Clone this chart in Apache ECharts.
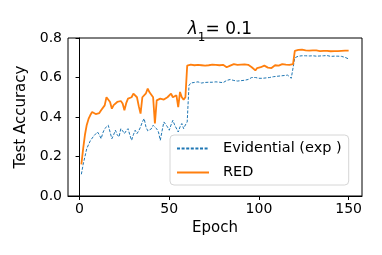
<!DOCTYPE html>
<html>
<head>
<meta charset="utf-8">
<script src="https://cdn.jsdelivr.net/npm/echarts@6/dist/echarts.min.js"></script>
<style>
html,body{margin:0;padding:0;background:#fff;}
#c{width:382px;height:255px;}
</style>
</head>
<body>
<div id="c"></div>
<script>
// ---- data ----
const titleText = "λ1= 0.1";
const seriesNames = ["Evidential (exp )", "RED"];
const xTicks = [0, 50, 100, 150];
const yTicks = [0.0, 0.2, 0.4, 0.6, 0.8];

const evidential = [
0.11,0.16,0.20,0.24,0.26,0.28,0.29,0.305,0.31,0.324,
0.31,0.29,0.32,0.341,0.35,0.358,0.324,0.29,0.31,0.333,
0.31,0.299,0.341,0.33,0.316,0.33,0.341,0.31,0.282,0.31,
0.333,0.316,0.33,0.35,0.375,0.392,0.35,0.33,0.324,0.34,
0.358,0.35,0.34,0.324,0.282,0.33,0.375,0.383,0.35,0.333,
0.36,0.383,0.36,0.35,0.324,0.35,0.367,0.341,0.36,0.375,
0.56,0.572,0.568,0.575,0.57,0.578,0.575,0.572,0.578,0.575,
0.572,0.576,0.58,0.576,0.572,0.578,0.582,0.576,0.58,0.574,
0.58,0.585,0.578,0.59,0.594,0.585,0.59,0.582,0.588,0.584,
0.592,0.586,0.584,0.59,0.596,0.60,0.594,0.60,0.59,0.596,
0.602,0.596,0.604,0.598,0.606,0.60,0.608,0.604,0.61,0.606,
0.612,0.608,0.614,0.61,0.615,0.612,0.618,0.596,0.59,0.70,
0.71,0.708,0.712,0.71,0.714,0.71,0.712,0.709,0.713,0.71,
0.712,0.708,0.711,0.709,0.712,0.71,0.708,0.711,0.709,0.707,
0.71,0.708,0.706,0.708,0.705,0.707,0.704,0.702,0.698,0.694
];

const red = [
0.16,0.24,0.31,0.36,0.39,0.41,0.425,0.42,0.415,0.425,
0.42,0.434,0.44,0.459,0.50,0.49,0.476,0.442,0.46,0.47,
0.476,0.48,0.481,0.468,0.434,0.47,0.493,0.49,0.50,0.518,
0.51,0.50,0.455,0.417,0.50,0.51,0.52,0.544,0.525,0.518,
0.50,0.367,0.484,0.49,0.493,0.49,0.488,0.495,0.50,0.51,
0.518,0.50,0.505,0.51,0.45,0.527,0.50,0.488,0.50,0.66,
0.668,0.665,0.67,0.662,0.668,0.664,0.67,0.662,0.665,0.66,
0.666,0.662,0.668,0.665,0.66,0.664,0.668,0.662,0.666,0.664,
0.66,0.652,0.645,0.66,0.665,0.668,0.662,0.664,0.66,0.665,
0.662,0.666,0.66,0.664,0.66,0.652,0.645,0.636,0.648,0.64,
0.652,0.645,0.66,0.662,0.65,0.658,0.648,0.655,0.662,0.666,
0.66,0.664,0.668,0.662,0.665,0.67,0.664,0.672,0.668,0.735,
0.738,0.74,0.739,0.741,0.738,0.737,0.739,0.736,0.738,0.737,
0.735,0.737,0.736,0.734,0.736,0.735,0.733,0.735,0.734,0.733,
0.735,0.734,0.732,0.734,0.733,0.735,0.734,0.736,0.735,0.736
];

const epochs = red.map((_, i) => i + 1);

const FONT = "DejaVu Sans";
const chart = echarts.init(document.getElementById('c'), null, {renderer: 'canvas'});
chart.setOption({
  animation: false,
  backgroundColor: '#fff',
  textStyle: {fontFamily: FONT, color: '#000'},
  title: {
    text: '{it|λ}{sub|1}{n|= 0.1}',
    left: 215, top: 11, textAlign: 'center',
    textStyle: {
      fontWeight: 'normal',
      rich: {
        it: {fontFamily: FONT, fontSize: 17, fontStyle: 'italic', fontWeight: 'normal', color: '#000', lineHeight: 22, verticalAlign: 'bottom'},
        sub: {fontFamily: FONT, fontSize: 12, fontWeight: 'normal', color: '#000', lineHeight: 22, verticalAlign: 'bottom', padding: [0, 0, -6, 0]},
        n: {fontFamily: FONT, fontSize: 17, fontWeight: 'normal', color: '#000', lineHeight: 22, verticalAlign: 'bottom'}
      }
    }
  },
  grid: {left: 68, right: 20, top: 38, bottom: 59, show: true, borderColor: '#000', borderWidth: 1, backgroundColor: 'transparent'},
  legend: {
    orient: 'vertical',
    left: 170, top: 135,
    padding: [6, 7, 5, 6],
    itemWidth: 32, itemHeight: 12,
    itemGap: 9,
    backgroundColor: 'rgba(255,255,255,0.8)',
    borderColor: '#d6d6d6', borderWidth: 1, borderRadius: 4,
    itemStyle: {opacity: 0},
    textStyle: {fontFamily: FONT, fontSize: 14.5, color: '#000', padding: [0, 0, 0, 9]},
    data: seriesNames
  },
  xAxis: {
    type: 'value', min: -6.45, max: 157.45,
    name: 'Epoch', nameLocation: 'middle', nameGap: 25,
    nameTextStyle: {fontFamily: FONT, fontSize: 15, color: '#000'},
    axisLine: {show: true, lineStyle: {color: '#000', width: 1}},
    axisTick: {show: true, inside: false, length: 4, customValues: xTicks, lineStyle: {color: '#000'}},
    axisLabel: {customValues: xTicks, fontFamily: FONT, fontSize: 14, color: '#000', margin: 6},
    splitLine: {show: false}
  },
  yAxis: {
    type: 'value', min: 0, max: 0.8, interval: 0.2,
    name: 'Test Accuracy', nameLocation: 'middle', nameGap: 33,
    nameTextStyle: {fontFamily: FONT, fontSize: 15, color: '#000'},
    axisLine: {show: true, lineStyle: {color: '#000', width: 1}},
    axisTick: {show: true, inside: false, length: 4, lineStyle: {color: '#000'}},
    axisLabel: {fontFamily: FONT, fontSize: 14, color: '#000', margin: 6, formatter: v => v.toFixed(1)},
    splitLine: {show: false}
  },
  series: [
    {
      name: seriesNames[0], type: 'line', showSymbol: false, symbol: 'none',
      data: epochs.map((e, i) => [e, evidential[i]]),
      lineStyle: {color: '#1f77b4', width: 1, type: [3, 1.6]},
      itemStyle: {color: '#1f77b4'}, z: 2
    },
    {
      name: seriesNames[1], type: 'line', showSymbol: false, symbol: 'none',
      data: epochs.map((e, i) => [e, red[i]]),
      lineStyle: {color: '#ff7f0e', width: 1.8},
      itemStyle: {color: '#ff7f0e'}, z: 3
    }
  ]
});
</script>
</body>
</html>
